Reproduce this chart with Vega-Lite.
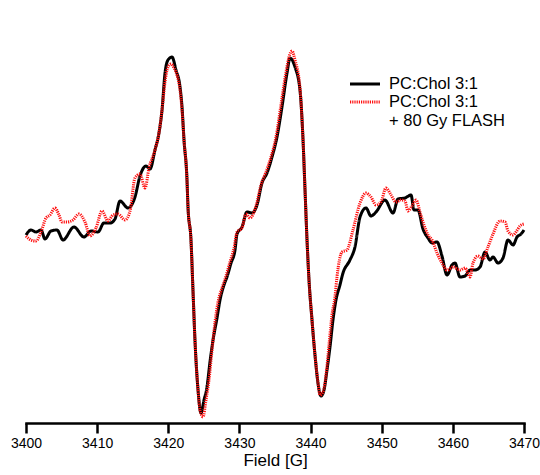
{
  "$schema": "https://vega.github.io/schema/vega-lite/v6.json",
  "width": 498,
  "height": 400,
  "autosize": {"type": "none"},
  "padding": {"left": 26, "top": 23, "right": 16, "bottom": 52},
  "background": "white",
  "config": {"view": {"stroke": null}, "font": "Liberation Sans"},
  "data": {"values": [
{"sample":"PC:Chol 3:1","field":3400.00,"intensity":188},{"sample":"PC:Chol 3:1","field":3400.70,"intensity":193},{"sample":"PC:Chol 3:1","field":3401.41,"intensity":191},{"sample":"PC:Chol 3:1","field":3402.11,"intensity":193},{"sample":"PC:Chol 3:1","field":3402.67,"intensity":184},{"sample":"PC:Chol 3:1","field":3403.51,"intensity":192},{"sample":"PC:Chol 3:1","field":3404.36,"intensity":193},{"sample":"PC:Chol 3:1","field":3405.20,"intensity":183},{"sample":"PC:Chol 3:1","field":3406.75,"intensity":196},{"sample":"PC:Chol 3:1","field":3408.15,"intensity":186},{"sample":"PC:Chol 3:1","field":3409.14,"intensity":192},{"sample":"PC:Chol 3:1","field":3410.12,"intensity":191},{"sample":"PC:Chol 3:1","field":3410.96,"intensity":200},{"sample":"PC:Chol 3:1","field":3411.81,"intensity":200},{"sample":"PC:Chol 3:1","field":3412.51,"intensity":204},{"sample":"PC:Chol 3:1","field":3413.21,"intensity":222},{"sample":"PC:Chol 3:1","field":3414.34,"intensity":215},{"sample":"PC:Chol 3:1","field":3415.32,"intensity":226},{"sample":"PC:Chol 3:1","field":3416.02,"intensity":247},{"sample":"PC:Chol 3:1","field":3416.87,"intensity":257},{"sample":"PC:Chol 3:1","field":3417.43,"intensity":254},{"sample":"PC:Chol 3:1","field":3418.13,"intensity":273},{"sample":"PC:Chol 3:1","field":3418.69,"intensity":290},{"sample":"PC:Chol 3:1","field":3419.12,"intensity":313},{"sample":"PC:Chol 3:1","field":3419.54,"intensity":350},{"sample":"PC:Chol 3:1","field":3419.96,"intensity":363},{"sample":"PC:Chol 3:1","field":3420.52,"intensity":366},{"sample":"PC:Chol 3:1","field":3421.08,"intensity":353},{"sample":"PC:Chol 3:1","field":3421.65,"intensity":336},{"sample":"PC:Chol 3:1","field":3421.93,"intensity":316},{"sample":"PC:Chol 3:1","field":3422.21,"intensity":283},{"sample":"PC:Chol 3:1","field":3422.63,"intensity":243},{"sample":"PC:Chol 3:1","field":3422.77,"intensity":216},{"sample":"PC:Chol 3:1","field":3423.19,"intensity":183},{"sample":"PC:Chol 3:1","field":3423.47,"intensity":133},{"sample":"PC:Chol 3:1","field":3423.75,"intensity":83},{"sample":"PC:Chol 3:1","field":3424.18,"intensity":33},{"sample":"PC:Chol 3:1","field":3424.60,"intensity":10},{"sample":"PC:Chol 3:1","field":3425.02,"intensity":23},{"sample":"PC:Chol 3:1","field":3425.44,"intensity":36},{"sample":"PC:Chol 3:1","field":3425.86,"intensity":61},{"sample":"PC:Chol 3:1","field":3426.29,"intensity":83},{"sample":"PC:Chol 3:1","field":3426.85,"intensity":105},{"sample":"PC:Chol 3:1","field":3427.27,"intensity":123},{"sample":"PC:Chol 3:1","field":3427.83,"intensity":138},{"sample":"PC:Chol 3:1","field":3428.25,"intensity":146},{"sample":"PC:Chol 3:1","field":3428.82,"intensity":160},{"sample":"PC:Chol 3:1","field":3429.38,"intensity":173},{"sample":"PC:Chol 3:1","field":3429.66,"intensity":189},{"sample":"PC:Chol 3:1","field":3430.36,"intensity":196},{"sample":"PC:Chol 3:1","field":3431.06,"intensity":211},{"sample":"PC:Chol 3:1","field":3431.77,"intensity":210},{"sample":"PC:Chol 3:1","field":3432.47,"intensity":218},{"sample":"PC:Chol 3:1","field":3433.17,"intensity":240},{"sample":"PC:Chol 3:1","field":3433.88,"intensity":250},{"sample":"PC:Chol 3:1","field":3434.58,"intensity":266},{"sample":"PC:Chol 3:1","field":3435.28,"intensity":286},{"sample":"PC:Chol 3:1","field":3435.98,"intensity":316},{"sample":"PC:Chol 3:1","field":3436.69,"intensity":350},{"sample":"PC:Chol 3:1","field":3437.11,"intensity":365},{"sample":"PC:Chol 3:1","field":3437.81,"intensity":356},{"sample":"PC:Chol 3:1","field":3438.51,"intensity":333},{"sample":"PC:Chol 3:1","field":3438.94,"intensity":283},{"sample":"PC:Chol 3:1","field":3439.22,"intensity":233},{"sample":"PC:Chol 3:1","field":3439.50,"intensity":183},{"sample":"PC:Chol 3:1","field":3439.78,"intensity":143},{"sample":"PC:Chol 3:1","field":3440.20,"intensity":103},{"sample":"PC:Chol 3:1","field":3440.62,"intensity":68},{"sample":"PC:Chol 3:1","field":3441.04,"intensity":40},{"sample":"PC:Chol 3:1","field":3441.47,"intensity":27},{"sample":"PC:Chol 3:1","field":3441.89,"intensity":33},{"sample":"PC:Chol 3:1","field":3442.31,"intensity":53},{"sample":"PC:Chol 3:1","field":3442.73,"intensity":76},{"sample":"PC:Chol 3:1","field":3443.15,"intensity":103},{"sample":"PC:Chol 3:1","field":3443.57,"intensity":123},{"sample":"PC:Chol 3:1","field":3444.13,"intensity":138},{"sample":"PC:Chol 3:1","field":3444.56,"intensity":150},{"sample":"PC:Chol 3:1","field":3445.54,"intensity":163},{"sample":"PC:Chol 3:1","field":3446.24,"intensity":176},{"sample":"PC:Chol 3:1","field":3446.95,"intensity":206},{"sample":"PC:Chol 3:1","field":3447.79,"intensity":215},{"sample":"PC:Chol 3:1","field":3448.49,"intensity":207},{"sample":"PC:Chol 3:1","field":3449.20,"intensity":211},{"sample":"PC:Chol 3:1","field":3450.46,"intensity":223},{"sample":"PC:Chol 3:1","field":3451.59,"intensity":210},{"sample":"PC:Chol 3:1","field":3452.29,"intensity":224},{"sample":"PC:Chol 3:1","field":3453.27,"intensity":225},{"sample":"PC:Chol 3:1","field":3454.12,"intensity":228},{"sample":"PC:Chol 3:1","field":3454.54,"intensity":213},{"sample":"PC:Chol 3:1","field":3455.10,"intensity":213},{"sample":"PC:Chol 3:1","field":3455.80,"intensity":194},{"sample":"PC:Chol 3:1","field":3456.51,"intensity":185},{"sample":"PC:Chol 3:1","field":3457.07,"intensity":180},{"sample":"PC:Chol 3:1","field":3457.77,"intensity":181},{"sample":"PC:Chol 3:1","field":3458.47,"intensity":167},{"sample":"PC:Chol 3:1","field":3459.18,"intensity":148},{"sample":"PC:Chol 3:1","field":3459.88,"intensity":158},{"sample":"PC:Chol 3:1","field":3460.30,"intensity":160},{"sample":"PC:Chol 3:1","field":3461.00,"intensity":146},{"sample":"PC:Chol 3:1","field":3461.71,"intensity":147},{"sample":"PC:Chol 3:1","field":3462.41,"intensity":153},{"sample":"PC:Chol 3:1","field":3463.11,"intensity":153},{"sample":"PC:Chol 3:1","field":3463.82,"intensity":156},{"sample":"PC:Chol 3:1","field":3464.52,"intensity":171},{"sample":"PC:Chol 3:1","field":3465.22,"intensity":163},{"sample":"PC:Chol 3:1","field":3465.64,"intensity":166},{"sample":"PC:Chol 3:1","field":3466.35,"intensity":160},{"sample":"PC:Chol 3:1","field":3467.05,"intensity":165},{"sample":"PC:Chol 3:1","field":3467.75,"intensity":183},{"sample":"PC:Chol 3:1","field":3468.46,"intensity":178},{"sample":"PC:Chol 3:1","field":3469.02,"intensity":186},{"sample":"PC:Chol 3:1","field":3469.58,"intensity":189},{"sample":"PC:Chol 3:1","field":3470.00,"intensity":193},
{"sample":"PC:Chol 3:1 + 80 Gy FLASH","field":3400.00,"intensity":187},{"sample":"PC:Chol 3:1 + 80 Gy FLASH","field":3400.70,"intensity":183},{"sample":"PC:Chol 3:1 + 80 Gy FLASH","field":3401.41,"intensity":182},{"sample":"PC:Chol 3:1 + 80 Gy FLASH","field":3402.11,"intensity":191},{"sample":"PC:Chol 3:1 + 80 Gy FLASH","field":3402.81,"intensity":205},{"sample":"PC:Chol 3:1 + 80 Gy FLASH","field":3403.37,"intensity":208},{"sample":"PC:Chol 3:1 + 80 Gy FLASH","field":3404.08,"intensity":215},{"sample":"PC:Chol 3:1 + 80 Gy FLASH","field":3404.64,"intensity":208},{"sample":"PC:Chol 3:1 + 80 Gy FLASH","field":3405.06,"intensity":201},{"sample":"PC:Chol 3:1 + 80 Gy FLASH","field":3405.76,"intensity":201},{"sample":"PC:Chol 3:1 + 80 Gy FLASH","field":3406.61,"intensity":203},{"sample":"PC:Chol 3:1 + 80 Gy FLASH","field":3407.45,"intensity":209},{"sample":"PC:Chol 3:1 + 80 Gy FLASH","field":3408.29,"intensity":201},{"sample":"PC:Chol 3:1 + 80 Gy FLASH","field":3409.00,"intensity":187},{"sample":"PC:Chol 3:1 + 80 Gy FLASH","field":3409.84,"intensity":195},{"sample":"PC:Chol 3:1 + 80 Gy FLASH","field":3410.68,"intensity":212},{"sample":"PC:Chol 3:1 + 80 Gy FLASH","field":3411.53,"intensity":202},{"sample":"PC:Chol 3:1 + 80 Gy FLASH","field":3412.23,"intensity":208},{"sample":"PC:Chol 3:1 + 80 Gy FLASH","field":3412.93,"intensity":209},{"sample":"PC:Chol 3:1 + 80 Gy FLASH","field":3413.92,"intensity":203},{"sample":"PC:Chol 3:1 + 80 Gy FLASH","field":3414.62,"intensity":212},{"sample":"PC:Chol 3:1 + 80 Gy FLASH","field":3415.32,"intensity":245},{"sample":"PC:Chol 3:1 + 80 Gy FLASH","field":3416.02,"intensity":249},{"sample":"PC:Chol 3:1 + 80 Gy FLASH","field":3416.73,"intensity":235},{"sample":"PC:Chol 3:1 + 80 Gy FLASH","field":3417.29,"intensity":255},{"sample":"PC:Chol 3:1 + 80 Gy FLASH","field":3418.13,"intensity":273},{"sample":"PC:Chol 3:1 + 80 Gy FLASH","field":3418.69,"intensity":290},{"sample":"PC:Chol 3:1 + 80 Gy FLASH","field":3419.12,"intensity":313},{"sample":"PC:Chol 3:1 + 80 Gy FLASH","field":3419.54,"intensity":341},{"sample":"PC:Chol 3:1 + 80 Gy FLASH","field":3419.96,"intensity":356},{"sample":"PC:Chol 3:1 + 80 Gy FLASH","field":3420.38,"intensity":359},{"sample":"PC:Chol 3:1 + 80 Gy FLASH","field":3420.80,"intensity":355},{"sample":"PC:Chol 3:1 + 80 Gy FLASH","field":3421.22,"intensity":348},{"sample":"PC:Chol 3:1 + 80 Gy FLASH","field":3421.65,"intensity":333},{"sample":"PC:Chol 3:1 + 80 Gy FLASH","field":3421.93,"intensity":313},{"sample":"PC:Chol 3:1 + 80 Gy FLASH","field":3422.21,"intensity":283},{"sample":"PC:Chol 3:1 + 80 Gy FLASH","field":3422.63,"intensity":243},{"sample":"PC:Chol 3:1 + 80 Gy FLASH","field":3422.77,"intensity":216},{"sample":"PC:Chol 3:1 + 80 Gy FLASH","field":3423.19,"intensity":183},{"sample":"PC:Chol 3:1 + 80 Gy FLASH","field":3423.47,"intensity":133},{"sample":"PC:Chol 3:1 + 80 Gy FLASH","field":3423.75,"intensity":83},{"sample":"PC:Chol 3:1 + 80 Gy FLASH","field":3424.18,"intensity":33},{"sample":"PC:Chol 3:1 + 80 Gy FLASH","field":3424.46,"intensity":13},{"sample":"PC:Chol 3:1 + 80 Gy FLASH","field":3424.88,"intensity":6},{"sample":"PC:Chol 3:1 + 80 Gy FLASH","field":3425.30,"intensity":23},{"sample":"PC:Chol 3:1 + 80 Gy FLASH","field":3425.72,"intensity":43},{"sample":"PC:Chol 3:1 + 80 Gy FLASH","field":3426.15,"intensity":73},{"sample":"PC:Chol 3:1 + 80 Gy FLASH","field":3426.57,"intensity":101},{"sample":"PC:Chol 3:1 + 80 Gy FLASH","field":3426.99,"intensity":121},{"sample":"PC:Chol 3:1 + 80 Gy FLASH","field":3427.55,"intensity":135},{"sample":"PC:Chol 3:1 + 80 Gy FLASH","field":3428.11,"intensity":147},{"sample":"PC:Chol 3:1 + 80 Gy FLASH","field":3428.67,"intensity":161},{"sample":"PC:Chol 3:1 + 80 Gy FLASH","field":3429.24,"intensity":175},{"sample":"PC:Chol 3:1 + 80 Gy FLASH","field":3429.66,"intensity":191},{"sample":"PC:Chol 3:1 + 80 Gy FLASH","field":3430.36,"intensity":195},{"sample":"PC:Chol 3:1 + 80 Gy FLASH","field":3430.92,"intensity":209},{"sample":"PC:Chol 3:1 + 80 Gy FLASH","field":3431.49,"intensity":205},{"sample":"PC:Chol 3:1 + 80 Gy FLASH","field":3432.33,"intensity":217},{"sample":"PC:Chol 3:1 + 80 Gy FLASH","field":3433.03,"intensity":238},{"sample":"PC:Chol 3:1 + 80 Gy FLASH","field":3433.73,"intensity":251},{"sample":"PC:Chol 3:1 + 80 Gy FLASH","field":3434.44,"intensity":266},{"sample":"PC:Chol 3:1 + 80 Gy FLASH","field":3435.14,"intensity":286},{"sample":"PC:Chol 3:1 + 80 Gy FLASH","field":3435.84,"intensity":318},{"sample":"PC:Chol 3:1 + 80 Gy FLASH","field":3436.55,"intensity":351},{"sample":"PC:Chol 3:1 + 80 Gy FLASH","field":3436.97,"intensity":366},{"sample":"PC:Chol 3:1 + 80 Gy FLASH","field":3437.39,"intensity":372},{"sample":"PC:Chol 3:1 + 80 Gy FLASH","field":3437.81,"intensity":363},{"sample":"PC:Chol 3:1 + 80 Gy FLASH","field":3438.51,"intensity":335},{"sample":"PC:Chol 3:1 + 80 Gy FLASH","field":3438.94,"intensity":283},{"sample":"PC:Chol 3:1 + 80 Gy FLASH","field":3439.22,"intensity":233},{"sample":"PC:Chol 3:1 + 80 Gy FLASH","field":3439.50,"intensity":183},{"sample":"PC:Chol 3:1 + 80 Gy FLASH","field":3439.78,"intensity":143},{"sample":"PC:Chol 3:1 + 80 Gy FLASH","field":3440.20,"intensity":103},{"sample":"PC:Chol 3:1 + 80 Gy FLASH","field":3440.62,"intensity":68},{"sample":"PC:Chol 3:1 + 80 Gy FLASH","field":3441.04,"intensity":41},{"sample":"PC:Chol 3:1 + 80 Gy FLASH","field":3441.33,"intensity":28},{"sample":"PC:Chol 3:1 + 80 Gy FLASH","field":3441.75,"intensity":31},{"sample":"PC:Chol 3:1 + 80 Gy FLASH","field":3442.17,"intensity":48},{"sample":"PC:Chol 3:1 + 80 Gy FLASH","field":3442.59,"intensity":78},{"sample":"PC:Chol 3:1 + 80 Gy FLASH","field":3443.01,"intensity":108},{"sample":"PC:Chol 3:1 + 80 Gy FLASH","field":3443.43,"intensity":126},{"sample":"PC:Chol 3:1 + 80 Gy FLASH","field":3443.71,"intensity":146},{"sample":"PC:Chol 3:1 + 80 Gy FLASH","field":3444.42,"intensity":171},{"sample":"PC:Chol 3:1 + 80 Gy FLASH","field":3445.12,"intensity":173},{"sample":"PC:Chol 3:1 + 80 Gy FLASH","field":3445.96,"intensity":193},{"sample":"PC:Chol 3:1 + 80 Gy FLASH","field":3446.95,"intensity":220},{"sample":"PC:Chol 3:1 + 80 Gy FLASH","field":3447.79,"intensity":230},{"sample":"PC:Chol 3:1 + 80 Gy FLASH","field":3448.49,"intensity":226},{"sample":"PC:Chol 3:1 + 80 Gy FLASH","field":3449.20,"intensity":218},{"sample":"PC:Chol 3:1 + 80 Gy FLASH","field":3449.90,"intensity":221},{"sample":"PC:Chol 3:1 + 80 Gy FLASH","field":3450.60,"intensity":235},{"sample":"PC:Chol 3:1 + 80 Gy FLASH","field":3451.31,"intensity":228},{"sample":"PC:Chol 3:1 + 80 Gy FLASH","field":3452.01,"intensity":221},{"sample":"PC:Chol 3:1 + 80 Gy FLASH","field":3452.71,"intensity":223},{"sample":"PC:Chol 3:1 + 80 Gy FLASH","field":3453.27,"intensity":222},{"sample":"PC:Chol 3:1 + 80 Gy FLASH","field":3453.69,"intensity":212},{"sample":"PC:Chol 3:1 + 80 Gy FLASH","field":3454.26,"intensity":217},{"sample":"PC:Chol 3:1 + 80 Gy FLASH","field":3454.82,"intensity":223},{"sample":"PC:Chol 3:1 + 80 Gy FLASH","field":3455.38,"intensity":211},{"sample":"PC:Chol 3:1 + 80 Gy FLASH","field":3455.94,"intensity":198},{"sample":"PC:Chol 3:1 + 80 Gy FLASH","field":3456.51,"intensity":188},{"sample":"PC:Chol 3:1 + 80 Gy FLASH","field":3457.07,"intensity":183},{"sample":"PC:Chol 3:1 + 80 Gy FLASH","field":3457.77,"intensity":170},{"sample":"PC:Chol 3:1 + 80 Gy FLASH","field":3458.47,"intensity":160},{"sample":"PC:Chol 3:1 + 80 Gy FLASH","field":3459.18,"intensity":153},{"sample":"PC:Chol 3:1 + 80 Gy FLASH","field":3460.02,"intensity":156},{"sample":"PC:Chol 3:1 + 80 Gy FLASH","field":3461.00,"intensity":153},{"sample":"PC:Chol 3:1 + 80 Gy FLASH","field":3461.71,"intensity":155},{"sample":"PC:Chol 3:1 + 80 Gy FLASH","field":3462.41,"intensity":146},{"sample":"PC:Chol 3:1 + 80 Gy FLASH","field":3462.83,"intensity":160},{"sample":"PC:Chol 3:1 + 80 Gy FLASH","field":3463.53,"intensity":167},{"sample":"PC:Chol 3:1 + 80 Gy FLASH","field":3464.24,"intensity":164},{"sample":"PC:Chol 3:1 + 80 Gy FLASH","field":3464.94,"intensity":176},{"sample":"PC:Chol 3:1 + 80 Gy FLASH","field":3465.64,"intensity":189},{"sample":"PC:Chol 3:1 + 80 Gy FLASH","field":3466.63,"intensity":202},{"sample":"PC:Chol 3:1 + 80 Gy FLASH","field":3467.33,"intensity":201},{"sample":"PC:Chol 3:1 + 80 Gy FLASH","field":3467.75,"intensity":192},{"sample":"PC:Chol 3:1 + 80 Gy FLASH","field":3468.46,"intensity":188},{"sample":"PC:Chol 3:1 + 80 Gy FLASH","field":3468.88,"intensity":191},{"sample":"PC:Chol 3:1 + 80 Gy FLASH","field":3469.44,"intensity":197},{"sample":"PC:Chol 3:1 + 80 Gy FLASH","field":3470.00,"intensity":199}
  ]},
  "mark": {"type": "line", "strokeWidth": 3, "interpolate": "monotone"},
  "encoding": {
    "x": {
      "field": "field", "type": "quantitative",
      "scale": {"domain": [3400, 3470], "nice": false, "zero": false},
      "axis": {
        "title": "Field [G]", "values": [3400,3410,3420,3430,3440,3450,3460,3470],
        "format": "d", "grid": false,
        "domainColor": "black", "domainWidth": 2.5, "domainCap": "square",
        "tickColor": "black", "tickWidth": 2.5, "tickSize": 10,
        "labelFontSize": 14, "labelColor": "black", "labelPadding": 3,
        "labelFlush": false, "labelBound": false,
        "titleFontSize": 17, "titleFontWeight": "normal", "titleColor": "black", "titlePadding": 2
      }
    },
    "y": {
      "field": "intensity", "type": "quantitative",
      "scale": {"domain": [0, 400], "nice": false},
      "axis": null
    },
    "color": {
      "field": "sample", "type": "nominal",
      "scale": {"domain": ["PC:Chol 3:1", "PC:Chol 3:1 + 80 Gy FLASH"], "range": ["black", "#ff1010"]},
      "legend": {
        "title": null, "orient": "none", "legendX": 330, "legendY": 52,
        "symbolType": "M-2,0H2", "symbolSize": 225, "symbolStrokeWidth": 3, "symbolFillColor": "transparent",
        "labelFontSize": 16.5, "labelColor": "black", "labelOffset": 15,
        "labelExpr": "indexof(datum.label, '+') > 0 ? ['PC:Chol 3:1', '+ 80 Gy FLASH'] : datum.label",
        "rowPadding": 0, "labelLimit": 300
      }
    },
    "strokeDash": {
      "field": "sample", "type": "nominal",
      "scale": {"domain": ["PC:Chol 3:1", "PC:Chol 3:1 + 80 Gy FLASH"], "range": [[1, 0], [1.2, 1]]},
      "legend": {
        "title": null, "orient": "none", "legendX": 330, "legendY": 52,
        "symbolType": "M-2,0H2", "symbolSize": 225, "symbolStrokeWidth": 3, "symbolFillColor": "transparent",
        "labelFontSize": 16.5, "labelColor": "black", "labelOffset": 15,
        "labelExpr": "indexof(datum.label, '+') > 0 ? ['PC:Chol 3:1', '+ 80 Gy FLASH'] : datum.label",
        "rowPadding": 0, "labelLimit": 300
      }
    }
  }
}
